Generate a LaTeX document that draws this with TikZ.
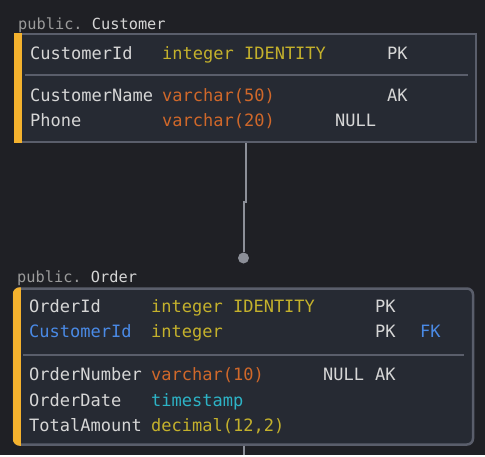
\documentclass[tikz,border=0pt]{standalone}
\usepackage{fontspec}
\newfontfamily\mono{DejaVu Sans Mono}
\usetikzlibrary{positioning}
\definecolor{bgc}{HTML}{1F2025}
\definecolor{boxc}{HTML}{262A33}
\definecolor{linec}{HTML}{5A5E6B}
\definecolor{connc}{HTML}{8C8F98}
\definecolor{barc}{HTML}{F4B22E}
\definecolor{txtc}{HTML}{D6D6D6}
\definecolor{dimc}{HTML}{9B9B9B}
\definecolor{typec}{HTML}{C4B12C}
\definecolor{varc}{HTML}{D0682A}
\definecolor{timec}{HTML}{2DB3C6}
\definecolor{keyc}{HTML}{4A8AE6}

\begin{document}
\begin{tikzpicture}[x=1pt, y=-1pt,
    cell/.style={anchor=base west, inner sep=0pt, text=txtc, font={\mono\fontsize{17}{20}\selectfont}},
    title/.style={anchor=base west, inner sep=0pt, text=txtc, font={\mono\fontsize{15.3}{18}\selectfont}},
    table/.style={rectangle, draw=linec, fill=boxc, line width=2.5pt, inner sep=0pt},
    conn/.style={draw=connc, line width=2pt},
    dot/.style={circle, fill=connc, minimum size=11pt, inner sep=0pt}]
    % Background
    \fill[bgc] (0,0) rectangle (485,455);

    % Customer table
    \node[title] (custtitle) at (18,29) {\textcolor{dimc}{public.}\kern-3pt{} Customer};
    \node[table, minimum width=461pt, minimum height=108pt] (cust) at (245.5,88) {};
    \fill[barc] (14,32.75) rectangle (22,143.25);
    \draw[linec, line width=1.5pt] (25,75) -- (468,75);

    \node[cell] (c1n) at (30,59) {CustomerId};
    \node[cell, text=typec] (c1t) at (162,59) {integer IDENTITY};
    \node[cell] (c1k) at (387,59) {PK};

    \node[cell] (c2n) at (30,101) {CustomerName};
    \node[cell, text=varc] (c2t) at (162,101) {varchar(50)};
    \node[cell] (c2k) at (387,101) {AK};

    \node[cell] (c3n) at (30,126) {Phone};
    \node[cell, text=varc] (c3t) at (162,126) {varchar(20)};
    \node[cell] (c3u) at (335,126) {NULL};

    % Order table
    \node[title] (ordtitle) at (17,282) {\textcolor{dimc}{public.}\kern-3pt{} Order};
    \node[table, rounded corners=6pt, minimum width=459pt, minimum height=156pt] (ord) at (243.5,366.5) {};
    \begin{scope}
        \clip[rounded corners=7pt] (12.75,287.25) rectangle (474.25,445.75);
        \fill[barc] (12.75,287.25) rectangle (21,445.75);
    \end{scope}
    \draw[linec, line width=1.5pt] (23,355) -- (464,355);

    \node[cell] (o1n) at (29,312) {OrderId};
    \node[cell, text=typec] (o1t) at (151,312) {integer IDENTITY};
    \node[cell] (o1k) at (375,312) {PK};

    \node[cell, text=keyc] (o2n) at (29,337) {CustomerId};
    \node[cell, text=typec] (o2t) at (151,337) {integer};
    \node[cell] (o2k) at (375,337) {PK};
    \node[cell, text=keyc] (o2f) at (420,337) {FK};

    \node[cell] (o3n) at (29,380) {OrderNumber};
    \node[cell, text=varc] (o3t) at (151,380) {varchar(10)};
    \node[cell] (o3u) at (323,380) {NULL};
    \node[cell] (o3k) at (375,380) {AK};

    \node[cell] (o4n) at (29,406) {OrderDate};
    \node[cell, text=timec] (o4t) at (151,406) {timestamp};

    \node[cell] (o5n) at (29,431) {TotalAmount};
    \node[cell, text=typec] (o5t) at (151,431) {decimal(12,2)};

    % Connection
    \node[dot] (end) at (243.5,258) {};
    \draw[conn] (cust.south) -- ++(0,59) -- ++(-2,0) -- (end);
    \coordinate (stub) at (243.5,455);
    \draw[conn] (ord.south) -- (stub);
\end{tikzpicture}
\end{document}
